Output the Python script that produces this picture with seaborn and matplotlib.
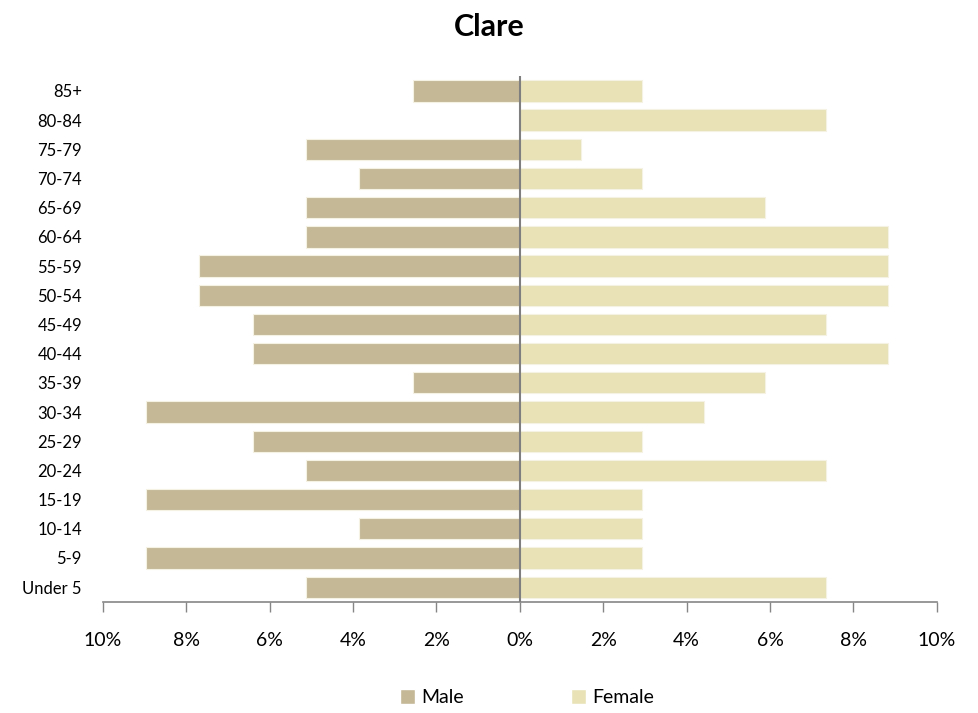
import matplotlib
matplotlib.use("Agg")
import matplotlib.pyplot as plt
import seaborn as sns
import pandas as pd
import numpy as np
from matplotlib.patches import Patch

ages = ["85+", "80-84", "75-79", "70-74", "65-69", "60-64", "55-59", "50-54",
        "45-49", "40-44", "35-39", "30-34", "25-29", "20-24", "15-19", "10-14",
        "5-9", "Under 5"]
male = [2.56, 0.0, 5.13, 3.85, 5.13, 5.13, 7.69, 7.69, 6.41, 6.41, 2.56, 8.97,
        6.41, 5.13, 8.97, 3.85, 8.97, 5.13]
female = [2.94, 7.35, 1.47, 2.94, 5.88, 8.82, 8.82, 8.82, 7.35, 8.82, 5.88,
          4.41, 2.94, 7.35, 2.94, 2.94, 2.94, 7.35]
xticks = [-10, -8, -6, -4, -2, 0, 2, 4, 6, 8, 10]

male_color = "#C4B896"
female_color = "#E8E2B6"

sns.set_theme(style="white")
plt.rcParams["font.family"] = ["Lato", "DejaVu Sans"]
plt.rcParams["text.color"] = "black"
plt.rcParams["xtick.color"] = "black"
plt.rcParams["ytick.color"] = "black"

df = pd.DataFrame({
    "age": ages * 2,
    "value": [-m for m in male] + female,
    "sex": ["Male"] * len(ages) + ["Female"] * len(ages),
})

fig = plt.figure(figsize=(9.79, 7.13), dpi=100)
ax = fig.add_axes([0.105, 0.156, 0.852, 0.737])
sns.barplot(data=df, x="value", y="age", hue="sex", order=ages,
            hue_order=["Male", "Female"], palette=[male_color, female_color],
            dodge=False, orient="h", width=0.73, edgecolor="#F5F2E4",
            linewidth=0.8, saturation=1, ax=ax, legend=False)

ax.set_xlim(-10, 10)
ax.set_ylim(len(ages) - 0.5, -0.5)
ax.set_xticks(xticks)
ax.set_xticklabels([f"{abs(t)}%" for t in xticks], fontsize=14)
ax.tick_params(axis="x", direction="out", length=7, width=1, color="#868686",
               labelcolor="black", pad=15, bottom=True)
ax.tick_params(axis="y", length=0, labelsize=12, labelcolor="black", pad=15)
ax.set_xlabel("")
ax.set_ylabel("")
for s in ["top", "right", "left"]:
    ax.spines[s].set_visible(False)
ax.spines["bottom"].set_color("#868686")
ax.spines["bottom"].set_linewidth(1.2)
ax.axvline(0, color="#7F7F7F", lw=1.5, ymin=0, ymax=1.0, zorder=5)

fig.suptitle("Clare", fontsize=22, fontweight="bold", y=0.982, color="black")

handles = [Patch(facecolor=male_color, label="Male"),
           Patch(facecolor=female_color, label="Female")]
fig.legend(handles=handles, loc="center", bbox_to_anchor=(0.538, 0.022),
           ncol=2, frameon=False, fontsize=14, handlelength=0.8,
           handleheight=0.8, handletextpad=0.3, columnspacing=5.5,
           labelcolor="black")

fig.savefig("out.png", dpi=100)
